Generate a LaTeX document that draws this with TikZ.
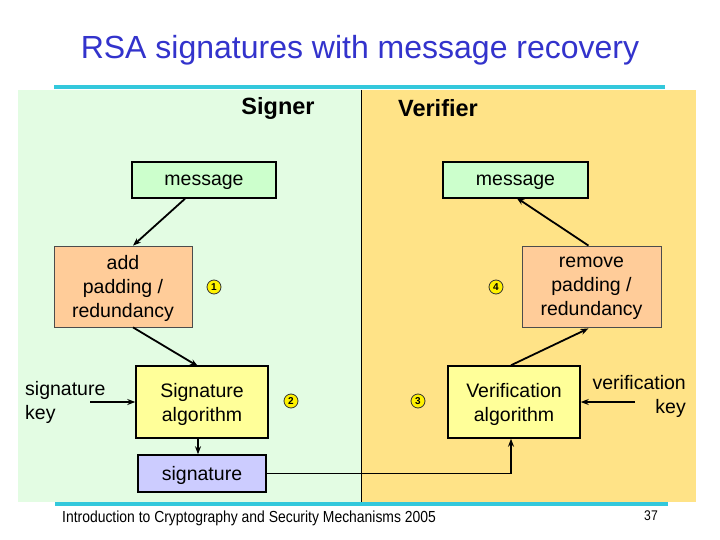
\documentclass[tikz,border=0pt]{standalone}
\usepackage{fontspec}
\setmainfont{Liberation Sans}
\usetikzlibrary{arrows.meta}
\definecolor{titleblue}{RGB}{51,51,204}
\definecolor{bggreen}{RGB}{227,252,227}
\definecolor{bgyellow}{RGB}{255,227,135}
\definecolor{msggreen}{RGB}{204,255,204}
\definecolor{padorange}{RGB}{255,204,153}
\definecolor{algyellow}{RGB}{255,255,153}
\definecolor{siglav}{RGB}{204,204,255}
\definecolor{rulecyan}{RGB}{51,200,220}
\tikzset{
  box/.style={draw=black, line width=1.5pt, minimum height=36pt, font=\fontsize{19.5}{24}\selectfont, inner sep=0pt, text depth=0pt},
  padbox/.style={draw=black!70, line width=0.8pt, minimum width=138pt, minimum height=81pt, fill=padorange, align=center, font=\fontsize{19.5}{24}\selectfont, inner sep=0pt, text depth=0pt},
  algbox/.style={box, minimum width=132pt, minimum height=72pt, fill=algyellow, align=center, font=\fontsize{19.5}{24}\selectfont},
  numcirc/.style={circle, draw=black!80, line width=0.8pt, fill=yellow, minimum size=14pt, inner sep=0pt, font=\fontsize{10}{10}\selectfont\bfseries},
  conn/.style={line width=1.8pt, -{Stealth[length=8pt,width=6pt]}},
  plain/.style={font=\fontsize{19.5}{24}\selectfont, inner sep=0pt},
}
\begin{document}
\begin{tikzpicture}[x=1pt,y=-1pt]
\useasboundingbox (0,0) rectangle (720,540);
\fill[white] (0,0) rectangle (720,540);
% backgrounds
\fill[bggreen] (18,90) rectangle (361,502);
\fill[bgyellow] (361,90) rectangle (696,502);
\draw[black, line width=0.6pt] (361,90) -- (361,502);
% rules
\draw[rulecyan, line width=3.5pt] (54,87) -- (665,87);
\draw[rulecyan, line width=3.5pt] (55,504) -- (668,504);
% title
\node[text=titleblue, font=\fontsize{32}{36}\selectfont, inner sep=0pt] (title) at (360,50) {RSA signatures with message recovery};
\node[font=\fontsize{23.5}{26}\selectfont\bfseries, inner sep=0pt] (signer) at (278,108) {Signer};
\node[font=\fontsize{23.5}{26}\selectfont\bfseries, inner sep=0pt] (verifier) at (438,108) {Verifier};
% boxes
\node[box, fill=msggreen, minimum width=144pt] (smsg) at (204,180) {message};
\node[box, fill=msggreen, minimum width=145pt] (vmsg) at (515.5,180) {message};
\node[padbox] (addpad) at (123,286.5) {add\\padding /\\redundancy};
\node[padbox, minimum width=139pt] (rempad) at (591.5,286.5) {remove\\padding /\\redundancy};
\node[algbox] (sigalg) at (202,402) {Signature\\algorithm};
\node[algbox] (veralg) at (514,402) {Verification\\algorithm};
\node[box, fill=siglav, minimum width=128pt, minimum height=37pt] (sig) at (202,473.5) {signature};
% numbers
\node[numcirc] (n1) at (214,287) {1};
\node[numcirc] (n2) at (291,401) {2};
\node[numcirc] (n3) at (418,401) {3};
\node[numcirc] (n4) at (496,287) {4};
% keys
\node[plain, align=left, anchor=west] (skey) at (25,402) {signature\\key};
\node[plain, align=right, anchor=east] (vkey) at (686,396) {verification\\key};
\coordinate (skeyend) at (90,402);
\coordinate (vkeyend) at (635,402);
% connectors
\draw[conn] ([xshift=-19pt]smsg.south) -- ([xshift=10pt]addpad.north);
\draw[conn] ([xshift=10pt]addpad.south) -- ([xshift=-4pt,yshift=-1pt]sigalg.north);
\draw[conn] (skeyend) -- (sigalg.west);
\draw[conn] ([xshift=-4pt]sigalg.south) -- ([xshift=-4pt]sig.north);
\draw[conn] (sig.east) -| ([xshift=-3pt]veralg.south);
\draw[conn] ([xshift=-3pt]veralg.north) -- ([xshift=-3pt,yshift=-1pt]rempad.south);
\draw[conn] ([xshift=-3pt]rempad.north) -- ([xshift=1pt,yshift=1pt]vmsg.south);
\draw[conn] (vkeyend) -- (veralg.east);
% footer
\node[anchor=west, inner sep=0pt, font=\fontsize{16}{18}\selectfont] (footer) at (62,518) {\scalebox{0.87}[1]{Introduction to Cryptography and Security Mechanisms 2005}};
\node[inner sep=0pt, font=\fontsize{14}{16}\selectfont] (page) at (651,516) {\scalebox{0.87}[1]{37}};
\end{tikzpicture}
\end{document}
